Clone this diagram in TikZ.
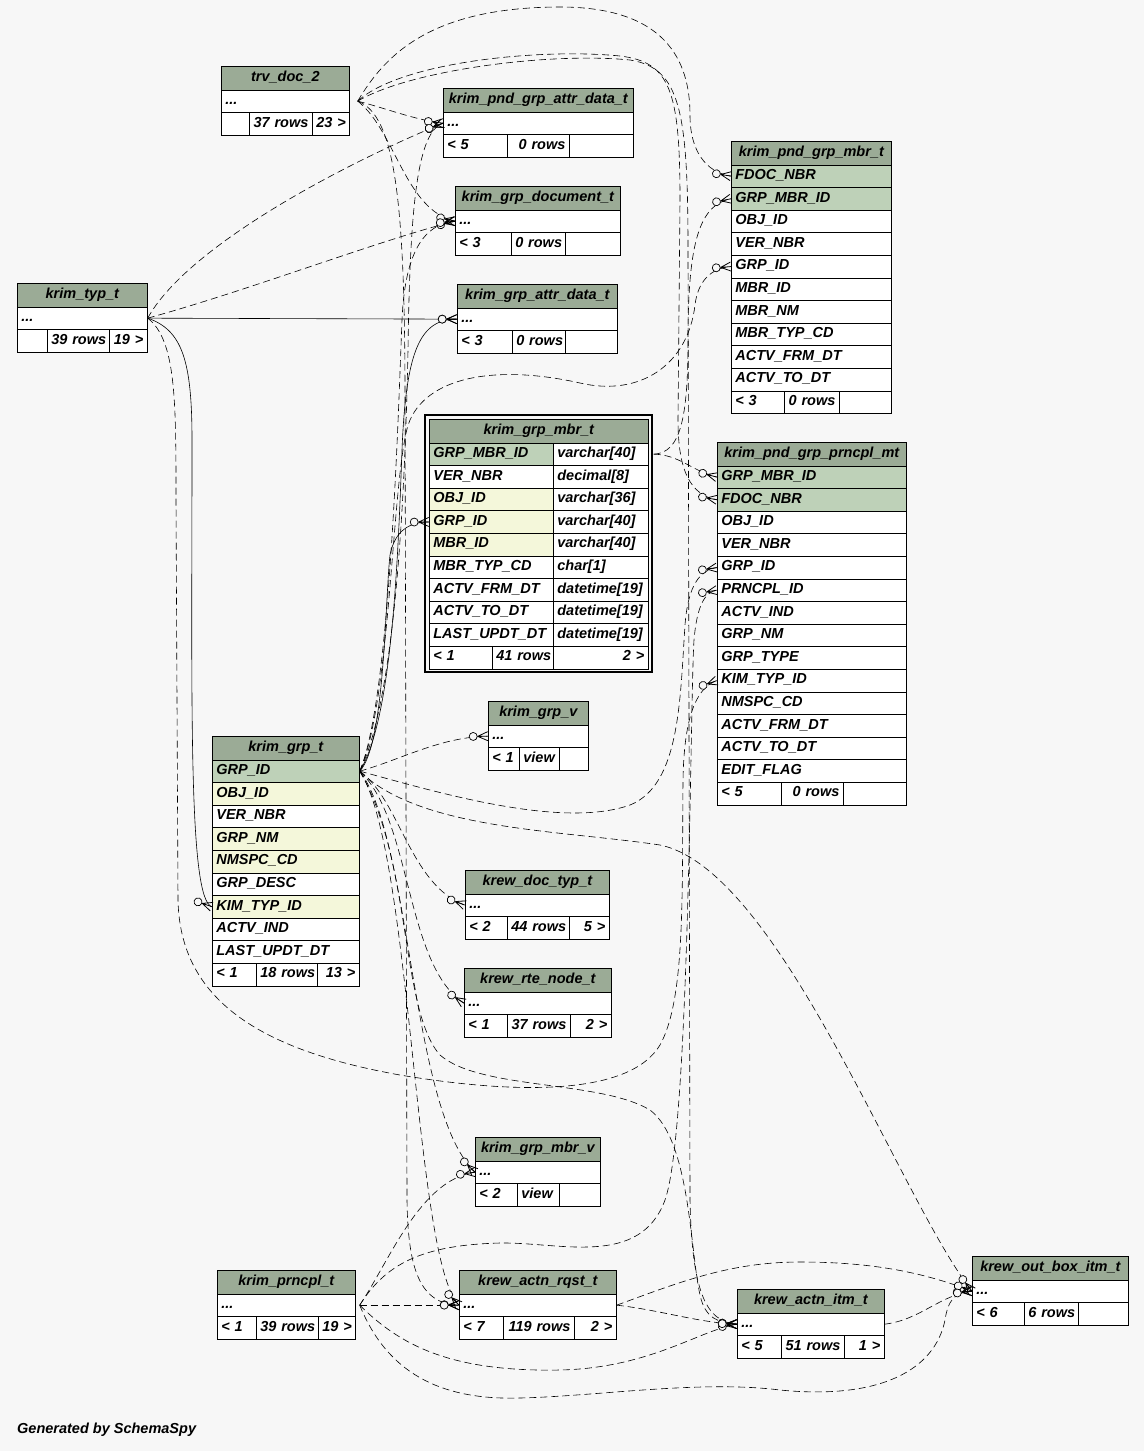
\documentclass[tikz,border=0pt]{standalone}
\usepackage{fontspec}
\setmainfont{Liberation Sans}
\usetikzlibrary{decorations.markings}

\definecolor{bgcol}{HTML}{F7F7F7}
\definecolor{hdrcol}{HTML}{9BAB96}
\definecolor{keycol}{HTML}{BED1B8}
\definecolor{idxcol}{HTML}{F4F7DA}
\newcommand{\tabfont}{\fontsize{14.5}{17}\selectfont\bfseries\itshape}

\tikzset{
  cell/.style={draw, line width=0.7pt, fill=white, anchor=north west, minimum height=22.6pt,
    inner xsep=4pt, inner ysep=0pt, text height=10pt, text depth=3.5pt, font=\tabfont, align=left},
  cw/.style={text width=#1pt-8pt},
  headc/.style={cell, fill=hdrcol, minimum height=23.5pt, align=center},
  fk/.style={line width=0.6pt},
  implied/.style={line width=0.6pt, dash pattern=on 7pt off 4pt},
  crowo/.style={postaction={decorate}, decoration={markings, mark=at position -0.3pt with {
      \draw[solid, line width=0.8pt] (-10pt,0pt) -- (0pt,4.5pt) (-10pt,0pt) -- (0pt,-4.5pt) (-10pt,0pt) -- (0pt,0pt);
      \draw[solid, line width=0.7pt, fill=bgcol] (-14.5pt,0pt) circle (4pt);}}}
}

\begin{document}
\begin{tikzpicture}[x=1pt, y=-1pt]
\fill[bgcol] (0,0) rectangle (1144,1451);
\useasboundingbox (0,0) rectangle (1144,1451);

% trv_doc_2
\node[headc, cw=128] (trv) at (221,66) {trv\_doc\_2};
\node[cell, cw=128] (trv-r) at (221,89.5) {...};
\node[cell, cw=28] (trv-f1) at (221,112.1) {};
\node[cell, cw=63, align=right] (trv-f2) at (249,112.1) {37~rows};
\node[cell, cw=37, align=right] (trv-f3) at (312,112.1) {23~>};

% krim_typ_t
\node[headc, cw=130] (typ) at (17,283) {krim\_typ\_t};
\node[cell, cw=130] (typ-r) at (17,306.5) {...};
\node[cell, cw=30] (typ-f1) at (17,329.1) {};
\node[cell, cw=62, align=right] (typ-f2) at (47,329.1) {39~rows};
\node[cell, cw=38, align=right] (typ-f3) at (109,329.1) {19~>};

% krim_pnd_grp_attr_data_t
\node[headc, cw=190] (pgad) at (443,88) {krim\_pnd\_grp\_attr\_data\_t};
\node[cell, cw=190] (pgad-r) at (443,111.5) {...};
\node[cell, cw=64] (pgad-f1) at (443,134.1) {<~5};
\node[cell, cw=62, align=right] (pgad-f2) at (507,134.1) {0~rows};
\node[cell, cw=64] (pgad-f3) at (569,134.1) {};

% krim_grp_document_t
\node[headc, cw=165] (gdoc) at (455,186) {krim\_grp\_document\_t};
\node[cell, cw=165] (gdoc-r) at (455,209.5) {...};
\node[cell, cw=56] (gdoc-f1) at (455,232.1) {<~3};
\node[cell, cw=54, align=right] (gdoc-f2) at (511,232.1) {0~rows};
\node[cell, cw=55] (gdoc-f3) at (565,232.1) {};

% krim_grp_attr_data_t
\node[headc, cw=160] (gad) at (457,284) {krim\_grp\_attr\_data\_t};
\node[cell, cw=160] (gad-r) at (457,307.5) {...};
\node[cell, cw=55] (gad-f1) at (457,330.1) {<~3};
\node[cell, cw=53, align=right] (gad-f2) at (512,330.1) {0~rows};
\node[cell, cw=52] (gad-f3) at (565,330.1) {};

% krim_pnd_grp_mbr_t
\node[headc, cw=160] (pgm) at (731,141) {krim\_pnd\_grp\_mbr\_t};
\foreach \nm/\fc/\lbl [count=\i from 0] in {fdoc/keycol/FDOC\_NBR, gmid/keycol/GRP\_MBR\_ID,
    obj/white/OBJ\_ID, ver/white/VER\_NBR, grp/white/GRP\_ID, mbr/white/MBR\_ID, mnm/white/MBR\_NM,
    mtyp/white/MBR\_TYP\_CD, afrm/white/ACTV\_FRM\_DT, ato/white/ACTV\_TO\_DT}
  \node[cell, fill=\fc, cw=160] (pgm-\nm) at (731,164.5+22.6*\i) {\lbl};
\node[cell, cw=53] (pgm-f1) at (731,390.5) {<~3};
\node[cell, cw=55, align=right] (pgm-f2) at (784,390.5) {0~rows};
\node[cell, cw=52] (pgm-f3) at (839,390.5) {};

% krim_grp_mbr_t
\draw[line width=1.4pt] (425,415) rectangle (652,672);
\node[headc, cw=219] (gmt) at (429,419) {krim\_grp\_mbr\_t};
\foreach \nm/\fc/\lbl/\typ [count=\i from 0] in {gmid/keycol/GRP\_MBR\_ID/varchar[40],
    ver/white/VER\_NBR/decimal[8], obj/idxcol/OBJ\_ID/varchar[36], gid/idxcol/GRP\_ID/varchar[40],
    mbr/idxcol/MBR\_ID/varchar[40], mtyp/white/MBR\_TYP\_CD/char[1], afrm/white/ACTV\_FRM\_DT/datetime[19],
    ato/white/ACTV\_TO\_DT/datetime[19], upd/white/LAST\_UPDT\_DT/datetime[19]}
{
  \node[cell, fill=\fc, cw=124] (gmt-\nm) at (429,442.5+22.6*\i) {\lbl};
  \node[cell, cw=95] (gmt-\nm-t) at (553,442.5+22.6*\i) {\typ};
}
\node[cell, cw=63] (gmt-f1) at (429,645.9) {<~1};
\node[cell, cw=61, align=right] (gmt-f2) at (492,645.9) {41~rows};
\node[cell, cw=95, align=right] (gmt-f3) at (553,645.9) {2~>};

% krim_pnd_grp_prncpl_mt
\node[headc, cw=189] (ppm) at (717,442) {krim\_pnd\_grp\_prncpl\_mt};
\foreach \nm/\fc/\lbl [count=\i from 0] in {gmid/keycol/GRP\_MBR\_ID, fdoc/keycol/FDOC\_NBR,
    obj/white/OBJ\_ID, ver/white/VER\_NBR, grp/white/GRP\_ID, prn/white/PRNCPL\_ID, act/white/ACTV\_IND,
    gnm/white/GRP\_NM, gtyp/white/GRP\_TYPE, kim/white/KIM\_TYP\_ID, nms/white/NMSPC\_CD,
    afrm/white/ACTV\_FRM\_DT, ato/white/ACTV\_TO\_DT, edit/white/EDIT\_FLAG}
  \node[cell, fill=\fc, cw=189] (ppm-\nm) at (717,465.5+22.6*\i) {\lbl};
\node[cell, cw=64] (ppm-f1) at (717,781.9) {<~5};
\node[cell, cw=62, align=right] (ppm-f2) at (781,781.9) {0~rows};
\node[cell, cw=63] (ppm-f3) at (843,781.9) {};

% krim_grp_v
\node[headc, cw=100] (gv) at (488,701) {krim\_grp\_v};
\node[cell, cw=100] (gv-r) at (488,724.5) {...};
\node[cell, cw=31] (gv-f1) at (488,747.1) {<~1};
\node[cell, cw=40] (gv-f2) at (519,747.1) {view};
\node[cell, cw=29] (gv-f3) at (559,747.1) {};

% krim_grp_t
\node[headc, cw=147] (grp) at (212,736) {krim\_grp\_t};
\foreach \nm/\fc/\lbl [count=\i from 0] in {gid/keycol/GRP\_ID, obj/idxcol/OBJ\_ID, ver/white/VER\_NBR,
    gnm/idxcol/GRP\_NM, nms/idxcol/NMSPC\_CD, desc/white/GRP\_DESC, kim/idxcol/KIM\_TYP\_ID,
    act/white/ACTV\_IND, upd/white/LAST\_UPDT\_DT}
  \node[cell, fill=\fc, cw=147] (grp-\nm) at (212,759.5+22.6*\i) {\lbl};
\node[cell, cw=44] (grp-f1) at (212,962.9) {<~1};
\node[cell, cw=61, align=right] (grp-f2) at (256,962.9) {18~rows};
\node[cell, cw=42, align=right] (grp-f3) at (317,962.9) {13~>};

% krew_doc_typ_t
\node[headc, cw=144] (doc) at (465,870) {krew\_doc\_typ\_t};
\node[cell, cw=144] (doc-r) at (465,893.5) {...};
\node[cell, cw=42] (doc-f1) at (465,916.1) {<~2};
\node[cell, cw=62, align=right] (doc-f2) at (507,916.1) {44~rows};
\node[cell, cw=40, align=right] (doc-f3) at (569,916.1) {5~>};

% krew_rte_node_t
\node[headc, cw=147] (rte) at (464,968) {krew\_rte\_node\_t};
\node[cell, cw=147] (rte-r) at (464,991.5) {...};
\node[cell, cw=43] (rte-f1) at (464,1014.1) {<~1};
\node[cell, cw=63, align=right] (rte-f2) at (507,1014.1) {37~rows};
\node[cell, cw=41, align=right] (rte-f3) at (570,1014.1) {2~>};

% krim_grp_mbr_v
\node[headc, cw=125] (gmv) at (475,1137) {krim\_grp\_mbr\_v};
\node[cell, cw=125] (gmv-r) at (475,1160.5) {...};
\node[cell, cw=42] (gmv-f1) at (475,1183.1) {<~2};
\node[cell, cw=42] (gmv-f2) at (517,1183.1) {view};
\node[cell, cw=41] (gmv-f3) at (559,1183.1) {};

% krim_prncpl_t
\node[headc, cw=138] (prn) at (217,1270) {krim\_prncpl\_t};
\node[cell, cw=138] (prn-r) at (217,1293.5) {...};
\node[cell, cw=39] (prn-f1) at (217,1316.1) {<~1};
\node[cell, cw=62, align=right] (prn-f2) at (256,1316.1) {39~rows};
\node[cell, cw=37, align=right] (prn-f3) at (318,1316.1) {19~>};

% krew_actn_rqst_t
\node[headc, cw=157] (rqs) at (459,1270) {krew\_actn\_rqst\_t};
\node[cell, cw=157] (rqs-r) at (459,1293.5) {...};
\node[cell, cw=44] (rqs-f1) at (459,1316.1) {<~7};
\node[cell, cw=71, align=right] (rqs-f2) at (503,1316.1) {119~rows};
\node[cell, cw=42, align=right] (rqs-f3) at (574,1316.1) {2~>};

% krew_actn_itm_t
\node[headc, cw=147] (itm) at (737,1289) {krew\_actn\_itm\_t};
\node[cell, cw=147] (itm-r) at (737,1312.5) {...};
\node[cell, cw=44] (itm-f1) at (737,1335.1) {<~5};
\node[cell, cw=63, align=right] (itm-f2) at (781,1335.1) {51~rows};
\node[cell, cw=40, align=right] (itm-f3) at (844,1335.1) {1~>};

% krew_out_box_itm_t
\node[headc, cw=156] (obx) at (972,1256) {krew\_out\_box\_itm\_t};
\node[cell, cw=156] (obx-r) at (972,1279.5) {...};
\node[cell, cw=52] (obx-f1) at (972,1302.1) {<~6};
\node[cell, cw=54, align=right] (obx-f2) at (1024,1302.1) {6~rows};
\node[cell, cw=50] (obx-f3) at (1078,1302.1) {};

\node[anchor=west, font=\tabfont, inner sep=0pt] (gen) at (17,1430) {Generated by SchemaSpy};

% parent ends
\coordinate (trv-o) at ([xshift=8pt]trv-r.east);
\coordinate (gmt-o) at ([xshift=5pt]gmt-gmid-t.east);
\coordinate (prn-o) at ([xshift=4pt]prn-r.east);

% real foreign keys
\draw[fk, crowo] (typ-r.east) -- (gad-r.west);
\draw[fk, crowo] (typ-r.east) .. controls (182,330) and (192,360) .. (192,440)
  .. controls (192,700) and (188,900) .. (grp-kim.west);
\draw[fk, crowo] (grp-gid.east) .. controls (385,745) and (385,600) .. (390,555)
  .. controls (395,530) and (410,522) .. (gmt-gid.west);
\draw[fk, crowo] (grp-gid.east) .. controls (392,720) and (398,560) .. (402,450)
  .. controls (406,350) and (420,319) .. (gad-r.west);

% implied relationships
\draw[implied, crowo] (trv-o) .. controls (385,108) and (415,120) .. (pgad-r.west);
\draw[implied, crowo] (trv-o) .. controls (395,130) and (405,210) .. (gdoc-r.west);
\draw[implied, crowo] (trv-o) .. controls (385,55) and (430,8) .. (557,7)
  .. controls (665,6) and (690,60) .. (690,115) .. controls (690,150) and (705,172) .. (pgm-fdoc.west);
\draw[implied, crowo] (trv-o) .. controls (400,62) and (540,48) .. (620,56)
  .. controls (670,62) and (680,90) .. (680,200) -- (678,420)
  .. controls (678,470) and (690,495) .. (ppm-fdoc.west);
\draw[implied, crowo] (trv-o) .. controls (410,70) and (550,52) .. (630,60)
  .. controls (680,68) and (688,110) .. (688,250) -- (690,1200)
  .. controls (692,1290) and (705,1322) .. (itm-r.west);
\draw[implied, crowo] (trv-o) .. controls (395,115) and (405,200) .. (405,400) -- (407,1200)
  .. controls (408,1270) and (420,1304) .. (rqs-r.west);

\draw[implied, crowo] (typ-r.east) .. controls (185,250) and (330,170) .. (pgad-r.west);
\draw[implied, crowo] (typ-r.east) .. controls (250,290) and (380,240) .. (gdoc-r.west);
\draw[implied, crowo] (typ-r.east) .. controls (176,340) and (176,400) .. (176,500) -- (178,900)
  .. controls (180,1000) and (260,1050) .. (400,1075) .. controls (520,1095) and (630,1095) .. (660,1045)
  .. controls (685,1000) and (682,900) .. (683,780) .. controls (684,720) and (695,688) .. (ppm-kim.west);

\draw[implied, crowo] (gmt-o) .. controls (680,453) and (688,420) .. (688,340)
  .. controls (688,240) and (700,205) .. (pgm-gmid.west);
\draw[implied, crowo] (gmt-o) .. controls (680,455) and (690,470) .. (ppm-gmid.west);

\draw[implied, crowo] (grp-gid.east) .. controls (395,700) and (405,500) .. (408,350)
  .. controls (410,200) and (418,132) .. (pgad-r.west);
\draw[implied, crowo] (grp-gid.east) .. controls (390,700) and (398,420) .. (402,320)
  .. controls (405,250) and (425,224) .. (gdoc-r.west);
\draw[implied, crowo] (grp-gid.east) .. controls (392,700) and (392,460) .. (410,420)
  .. controls (430,375) and (500,365) .. (580,383) .. controls (640,397) and (688,365) .. (695,305)
  .. controls (698,280) and (712,268) .. (pgm-grp.west);
\draw[implied, crowo] (grp-gid.east) .. controls (430,790) and (560,830) .. (630,805)
  .. controls (680,785) and (680,700) .. (685,625) .. controls (688,585) and (700,570) .. (ppm-grp.west);
\draw[implied, crowo] (grp-gid.east) .. controls (400,760) and (440,737) .. (gv-r.west);
\draw[implied, crowo] (grp-gid.east) .. controls (400,800) and (410,885) .. (doc-r.west);
\draw[implied, crowo] (grp-gid.east) .. controls (412,820) and (405,965) .. (rte-r.west);
\draw[implied, crowo] (grp-gid.east) .. controls (412,840) and (410,1110) .. (gmv-r.west);
\draw[implied, crowo] (grp-gid.east) .. controls (412,850) and (414,1260) .. (rqs-r.west);
\draw[implied, crowo] (grp-gid.east) .. controls (412,860) and (400,1010) .. (440,1055)
  .. controls (480,1090) and (600,1080) .. (650,1110) .. controls (690,1140) and (690,1250) .. (700,1295)
  .. controls (705,1318) and (718,1323) .. (itm-r.west);
\draw[implied, crowo] (grp-gid.east) .. controls (420,830) and (560,830) .. (660,845)
  .. controls (780,870) and (900,1200) .. (obx-r.west);

\draw[implied, crowo] (prn-o) .. controls (390,1260) and (420,1180) .. (gmv-r.west);
\draw[implied, crowo] (prn-o) -- (rqs-r.west);
\draw[implied, crowo] (prn-o) .. controls (400,1345) and (450,1372) .. (560,1370)
  .. controls (650,1368) and (700,1330) .. (itm-r.west);
\draw[implied, crowo] (prn-o) .. controls (390,1380) and (450,1400) .. (520,1398)
  .. controls (600,1396) and (700,1380) .. (780,1390) .. controls (880,1400) and (935,1370) .. (945,1320)
  .. controls (948,1300) and (955,1292) .. (obx-r.west);
\draw[implied, crowo] (prn-o) .. controls (385,1265) and (420,1245) .. (500,1243)
  .. controls (560,1242) and (640,1268) .. (665,1200) .. controls (690,1130) and (690,700) .. (694,640)
  .. controls (697,605) and (705,592) .. (ppm-prn.west);

\draw[implied, crowo] (rqs-r.east) .. controls (660,1310) and (700,1323) .. (itm-r.west);
\draw[implied, crowo] (rqs-r.east) .. controls (680,1282) and (730,1262) .. (800,1262)
  .. controls (880,1262) and (930,1275) .. (obx-r.west);
\draw[implied, crowo] (itm-r.east) .. controls (920,1320) and (940,1295) .. (obx-r.west);
\end{tikzpicture}
\end{document}
